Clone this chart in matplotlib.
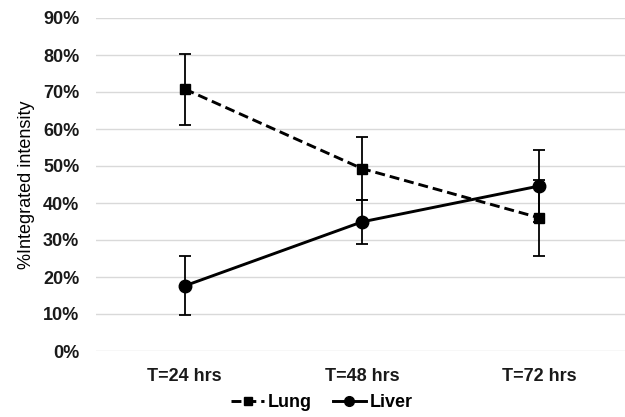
#!/usr/bin/env python3
"""Integrated intensity over time, lung vs liver."""

import matplotlib

matplotlib.use("Agg")
import matplotlib.pyplot as plt
from matplotlib.lines import Line2D
import numpy as np

TIMES = ["T=24 hrs", "T=48 hrs", "T=72 hrs"]
LUNG = [70.8, 49.3, 36.0]
LUNG_ERR = [9.6, 8.6, 10.2]
LIVER = [17.6, 34.9, 44.6]
LIVER_ERR = [8.0, 6.0, 9.8]

DASH = (0, (3.4, 1.7))

plt.rcParams.update({
    "font.family": ["Liberation Sans", "DejaVu Sans"],
    "font.size": 12,
})


def main():
  fig = plt.figure(figsize=(6.25, 4.17), dpi=100)
  ax = fig.add_axes([96 / 625, 1 - 351 / 417, 532 / 625, 333 / 417])
  xs = np.arange(len(TIMES)) + 0.5

  ax.errorbar(
      xs, LUNG, yerr=LUNG_ERR, color="black", linestyle=DASH,
      linewidth=2.1, marker="s", markersize=7, capsize=4, elinewidth=1.3,
      capthick=1.3, zorder=3)
  ax.errorbar(
      xs, LIVER, yerr=LIVER_ERR, color="black", linestyle="-",
      linewidth=2.1, marker="o", markersize=9, capsize=4, elinewidth=1.3,
      capthick=1.3, zorder=3)

  ax.set_xlim(0, len(TIMES))
  ax.set_ylim(0, 90)
  ax.set_yticks(np.arange(0, 91, 10))
  ax.set_yticklabels([f"{v}%" for v in range(0, 91, 10)], fontweight="bold",
                     fontsize=13, color="#1a1a1a")
  ax.set_xticks(xs)
  ax.set_xticklabels(TIMES, fontweight="bold", fontsize=13, color="#1a1a1a")
  ax.tick_params(axis="both", length=0)
  ax.tick_params(axis="y", pad=12)
  ax.tick_params(axis="x", pad=12)
  ax.grid(axis="y", color="#d9d9d9", linewidth=1)
  ax.set_axisbelow(True)
  for spine in ax.spines.values():
    spine.set_visible(False)
  ax.set_ylabel("%Integrated intensity", fontsize=13, labelpad=6)

  handles = [
      Line2D([], [], color="black", linestyle=DASH, linewidth=2.1,
             marker="s", markersize=6),
      Line2D([], [], color="black", linestyle="-", linewidth=2.1,
             marker="o", markersize=7),
  ]
  fig.legend(handles, ["Lung", "Liver"], loc="lower center",
             bbox_to_anchor=(0.515, -0.025), ncol=2, frameon=False,
             handlelength=1.8, columnspacing=1.2, handletextpad=0.2,
             prop={"weight": "bold", "size": 13})
  fig.savefig("out.png", dpi=100)
  plt.close(fig)


if __name__ == "__main__":
  main()
